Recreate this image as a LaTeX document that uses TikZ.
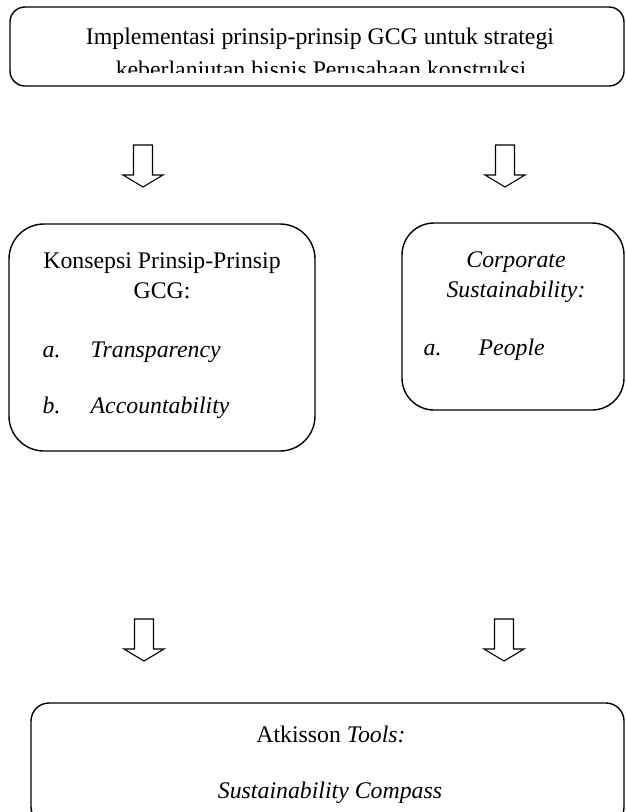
\documentclass[tikz,border=0pt]{standalone}
\usepackage{fontspec}
\setmainfont{Liberation Serif}
\usetikzlibrary{positioning}

\begin{document}
\begin{tikzpicture}[x=1pt,y=-1pt,line width=1.4pt,
  box/.style={draw,inner sep=0pt},
  txt/.style={inner sep=0pt,anchor=base,font=\fontsize{23.8}{28}\selectfont},
  item/.style={txt,anchor=base west},
  pics/downarr/.style={code={\draw[line width=1.1pt,line join=miter] (-9.5,0) -- (9.5,0) -- (9.5,30) -- (20,30) -- (0,42) -- (-20,30) -- (-9.5,30) -- cycle;}}]

\useasboundingbox (0,0) rectangle (625,812);
\clip (0,0) rectangle (625,812);

% kotak atas
\node[box,rounded corners=15pt,minimum width=614pt,minimum height=79pt] (atas) at (317,46.5) {};
\begin{scope}
  \clip (10,7) rectangle (624,72);
  \node[txt] (judul1) at (320,44) {Implementasi prinsip-prinsip GCG untuk strategi};
  \node[txt] (judul2) at (321,77) {keberlanjutan bisnis Perusahaan konstruksi};
\end{scope}

\pic (panahA) at (143,145) {downarr};
\pic (panahB) at (505,145) {downarr};

% kotak kiri
\node[box,rounded corners=35pt,minimum width=306pt,minimum height=227pt] (gcg) at (162,337.5) {};
\node[txt] (gcg1) at (162,268) {Konsepsi Prinsip-Prinsip};
\node[txt] (gcg2) at (162,298) {GCG:};
\node[item] (gcgA) at (42,357) {\textit{a.}};
\node[item] (transp) at (90,357) {\textit{Transparency}};
\node[item] (gcgB) at (42,413) {\textit{b.}};
\node[item] (akunt) at (90,413) {\textit{Accountability}};

% kotak kanan
\node[box,rounded corners=32pt,minimum width=222pt,minimum height=187pt] (cs) at (513,316.5) {};
\node[txt] (cs1) at (516,267) {\textit{Corporate}};
\node[txt] (cs2) at (516,297) {\textit{Sustainability:}};
\node[item] (csA) at (423,355) {\textit{a.}};
\node[item] (people) at (478,355) {\textit{People}};

\pic (panahC) at (144,619) {downarr};
\pic (panahD) at (504,619) {downarr};

% kotak bawah
\node[box,rounded corners=18pt,minimum width=593pt,minimum height=122pt] (atk) at (327.5,764) {};
\node[txt] (atk1) at (331,742) {Atkisson \textit{Tools:}};
\node[txt] (atk2) at (330,798) {\textit{Sustainability Compass}};

\end{tikzpicture}
\end{document}
